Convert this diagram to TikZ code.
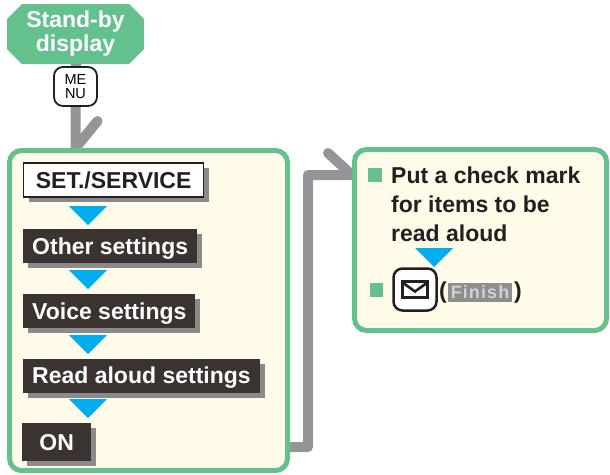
\documentclass[tikz,border=0pt]{standalone}
\usepackage{fontspec}
\setmainfont{Liberation Sans}
\usetikzlibrary{calc,shadows,backgrounds}
\definecolor{grn}{HTML}{64C18D}
\definecolor{cream}{HTML}{FFFBE8}
\definecolor{dark}{HTML}{3A3330}
\definecolor{cyanA}{HTML}{00AEEF}
\definecolor{lgray}{HTML}{939598}
\definecolor{shad}{HTML}{8A8A8A}
\definecolor{ink}{HTML}{231F20}
\definecolor{fbox}{HTML}{8E8E8E}
\definecolor{ftext}{HTML}{D2D2D2}
\newcommand\myfs[2]{\fontsize{#1}{#2}\selectfont}
\tikzset{
  panel/.style={draw=grn, line width=5pt, fill=cream, rounded corners=12pt},
  menubox/.style={general shadow={fill=shad, shadow xshift=5pt, shadow yshift=-5pt},
    anchor=west, inner xsep=9pt, inner ysep=0pt, text height=25pt, text depth=9pt,
    font=\bfseries\myfs{23}{23}},
  darkbox/.style={menubox, fill=dark, text=white},
  whitebox/.style={menubox, fill=white, draw=ink, line width=1.3pt, text=ink},
  conn/.style={draw=lgray, line width=10pt, line cap=round, line join=round},
  keybox/.style={draw=ink, fill=white, rounded corners=9pt},
}
\newcommand\downtri[1]{\fill[cyanA] ($#1+(-19,0)$) -- ($#1+(19,0)$) -- ($#1+(0,19)$) -- cycle;}
\begin{document}
\begin{tikzpicture}[x=1pt,y=-1pt]
\useasboundingbox (0,0) rectangle (610,474);
% stand-by display
\fill[grn] (22,4) -- (129,4) -- (144,19) -- (144,49) -- (129,64) -- (22,64) -- (7,49) -- (7,19) -- cycle;
\node[text=white, font=\bfseries\myfs{23}{24}, align=center, inner sep=0pt,
  minimum width=137pt, minimum height=60pt] (sb) at (75.5,34) {Stand-by\\display};
% MENU key
\node[keybox, line width=1.8pt, minimum width=43pt, minimum height=39pt, inner sep=0pt,
  align=center, font=\myfs{14.5}{14}] (menu) at (75.5,86.5) {ME\\NU};
% panels
\node[panel, minimum width=278pt, minimum height=320pt] (lp) at (148.5,310.5) {};
\node[panel, minimum width=252pt, minimum height=181pt] (rp) at (480.5,240) {};
% left panel boxes
\node[whitebox, minimum width=180pt] (set) at (23,180) {SET./SERVICE};
\node[darkbox] (oth) at (23,246) {Other settings};
\node[darkbox] (voi) at (23,311) {Voice settings};
\node[darkbox] (rea) at (23,375.5) {Read aloud settings};
\node[darkbox, minimum width=69pt, text height=27pt, text depth=11pt] (on) at (22,442) {ON};
\downtri{(88,206)}
\downtri{(88,270)}
\downtri{(88,335)}
\downtri{(88,399)}
% right panel contents
\fill[grn] (368,168) rectangle (382,182);
\node[anchor=base west, align=left, inner sep=0pt, text=ink,
  font=\bfseries\myfs{23}{29}] (txt) at (391,241) {Put a check mark\\for items to be\\read aloud};
\downtri{(434,248)}
\fill[grn] (370,283) rectangle (383,297);
\node[keybox, line width=2.5pt, minimum width=43pt, minimum height=42pt] (mail) at (415,289.5) {};
\draw[ink, line width=2.6pt, line join=miter] ($(mail.center)+(-12.5,-8)$) rectangle ($(mail.center)+(12.5,8)$);
\draw[ink, line width=2.6pt, line join=miter] ($(mail.center)+(-12.5,-7)$) -- ($(mail.center)+(0,2)$) -- ($(mail.center)+(12.5,-7)$);
\node[anchor=base west, inner sep=0pt, text=ink, font=\bfseries\myfs{23}{23}] (lpar) at (439,298) {(};
\node[fill=fbox, text=ftext, inner sep=0pt, minimum width=64pt, minimum height=19pt,
  font=\bfseries\myfs{18}{18}] (fin) at (480,292.5) {F\kern1.1pt i\kern1.1pt n\kern1.1pt i\kern1.1pt s\kern1.1pt h};
\node[anchor=base west, inner sep=0pt, text=ink, font=\bfseries\myfs{23}{23}] (rpar) at (514,298) {)};
% connectors
\begin{scope}[on background layer]
\draw[conn] (sb.south) -- (menu.north);
\draw[conn] (menu.south) -- (lp.north -| menu.south) -- ++(22,-27);
\draw[conn] (lp.east |- {(0,447)}) -| (308,175) -- (rp.west |- {(0,175)}) -- ++(-24,-22);
\end{scope}
\end{tikzpicture}
\end{document}
